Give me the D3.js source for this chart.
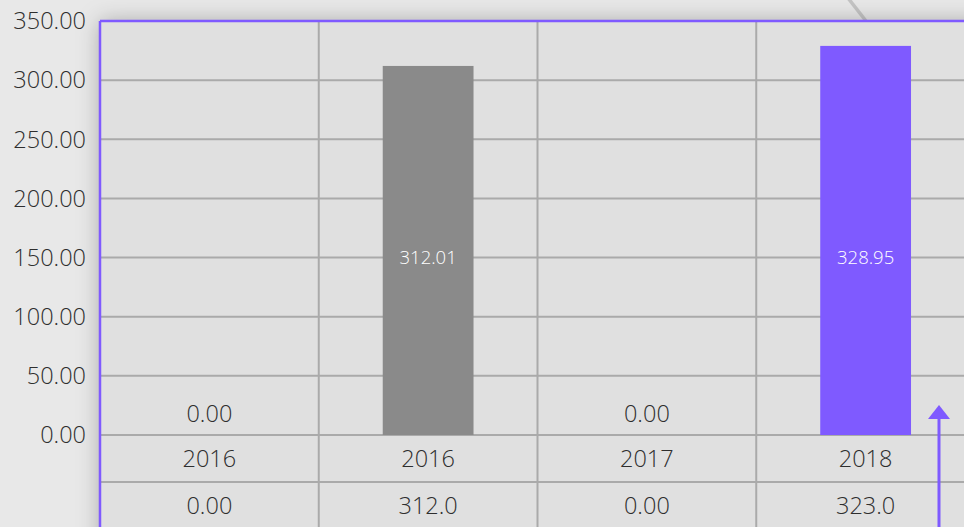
<!DOCTYPE html>
<html>
<head>
<meta charset="utf-8">
<script src="https://cdn.jsdelivr.net/npm/d3@7"></script>
<style>
  html, body { margin: 0; padding: 0; background: #e8e8e8; overflow: hidden; }
  svg text { font-family: "Open Sans", sans-serif; }
</style>
</head>
<body>
<svg id="chart"></svg>
<script>
// chart data
var years = ["2016", "2016", "2017", "2018"];
var values = [0, 312.01, 0, 328.95];
var tableValues = ["0.00", "312.0", "0.00", "323.0"];
var barColors = ["#8a8a8a", "#8a8a8a", "#8a8a8a", "#7f5aff"];
var yTicks = [0, 50, 100, 150, 200, 250, 300, 350];

var dimensions = {
    width: 964,
    height: 527,
    panel: { left: 100, top: 21, right: 975 },
    baseline: 435,
    rowHeight: 47
};

var accent = "#7f5aff";
var gridColor = "#aaaaaa";
var textColor = "#2e2e2e";

var svg = d3.select("#chart")
            .attr("width", dimensions.width)
            .attr("height", dimensions.height);

// drop shadow for the panel
var defs = svg.append("defs");
var shadow = defs.append("filter")
                 .attr("id", "shadow")
                 .attr("x", "-20%").attr("y", "-20%")
                 .attr("width", "140%").attr("height", "140%");
shadow.append("feDropShadow")
      .attr("dx", 0).attr("dy", 0)
      .attr("stdDeviation", 11)
      .attr("flood-color", "#000")
      .attr("flood-opacity", 0.28);

svg.append("rect")
   .attr("width", dimensions.width)
   .attr("height", dimensions.height)
   .attr("fill", "#e8e8e8");

// the faint diagonal line in the top corner
svg.append("line")
   .attr("x1", 848).attr("y1", -2)
   .attr("x2", 866).attr("y2", dimensions.panel.top)
   .attr("stroke", "#c4c4c4")
   .attr("stroke-width", 3.5);

svg.append("rect")
   .attr("x", dimensions.panel.left)
   .attr("y", dimensions.panel.top)
   .attr("width", 1000)
   .attr("height", 700)
   .attr("fill", "#e0e0e0")
   .attr("filter", "url(#shadow)");

// scales
var xScale = d3.scaleBand()
               .domain(d3.range(years.length))
               .range([dimensions.panel.left, dimensions.panel.right])
               .padding(0);

var yScale = d3.scaleLinear()
               .domain([0, 350])
               .range([dimensions.baseline, dimensions.panel.top]);

var barWidth = xScale.bandwidth() * 0.415;
var barOffset = (xScale.bandwidth() - barWidth) / 2;

// horizontal grid lines
svg.append("g")
   .selectAll("line")
   .data(yTicks)
   .enter()
   .append("line")
   .attr("x1", dimensions.panel.left)
   .attr("x2", dimensions.width)
   .attr("y1", d => yScale(d))
   .attr("y2", d => yScale(d))
   .attr("stroke", gridColor)
   .attr("stroke-width", 2);

// table row lines under the baseline
var rowLines = [1, 2];
svg.append("g")
   .selectAll("line")
   .data(rowLines)
   .enter()
   .append("line")
   .attr("x1", dimensions.panel.left)
   .attr("x2", dimensions.width)
   .attr("y1", d => dimensions.baseline + d * dimensions.rowHeight)
   .attr("y2", d => dimensions.baseline + d * dimensions.rowHeight)
   .attr("stroke", gridColor)
   .attr("stroke-width", 2);

// vertical grid lines between the columns
svg.append("g")
   .selectAll("line")
   .data(d3.range(1, years.length))
   .enter()
   .append("line")
   .attr("x1", d => xScale(d))
   .attr("x2", d => xScale(d))
   .attr("y1", dimensions.panel.top)
   .attr("y2", dimensions.height)
   .attr("stroke", gridColor)
   .attr("stroke-width", 2);

// y axis labels
svg.append("g")
   .selectAll("text")
   .data(yTicks)
   .enter()
   .append("text")
   .attr("x", 86)
   .attr("y", d => yScale(d))
   .attr("dy", "0.35em")
   .attr("text-anchor", "end")
   .attr("font-size", 23.5)
   .attr("font-weight", 300)
   .attr("fill", textColor)
   .text(d => d3.format(".2f")(d));

// bars
svg.append("g")
   .selectAll("rect")
   .data(values)
   .enter()
   .append("rect")
   .attr("x", (d, i) => xScale(i) + barOffset)
   .attr("y", d => yScale(d))
   .attr("width", barWidth)
   .attr("height", d => yScale(0) - yScale(d))
   .attr("fill", (d, i) => barColors[i]);

// value labels: white inside bars, dark above empty ones
svg.append("g")
   .selectAll("text")
   .data(values)
   .enter()
   .append("text")
   .attr("x", (d, i) => xScale(i) + xScale.bandwidth() / 2)
   .attr("y", d => d > 0 ? yScale(150) : yScale(0) - 21)
   .attr("dy", "0.35em")
   .attr("text-anchor", "middle")
   .attr("font-size", d => d > 0 ? 18.5 : 23.5)
   .attr("font-weight", 300)
   .attr("fill", d => d > 0 ? "#ffffff" : textColor)
   .text(d => d3.format(".2f")(d));

// table rows: years, then totals
svg.append("g")
   .selectAll("text")
   .data(years)
   .enter()
   .append("text")
   .attr("x", (d, i) => xScale(i) + xScale.bandwidth() / 2)
   .attr("y", dimensions.baseline + dimensions.rowHeight / 2)
   .attr("dy", "0.35em")
   .attr("text-anchor", "middle")
   .attr("font-size", 23.5)
   .attr("font-weight", 300)
   .attr("fill", textColor)
   .text(d => d);

svg.append("g")
   .selectAll("text")
   .data(tableValues)
   .enter()
   .append("text")
   .attr("x", (d, i) => xScale(i) + xScale.bandwidth() / 2)
   .attr("y", dimensions.baseline + dimensions.rowHeight * 1.5)
   .attr("dy", "0.35em")
   .attr("text-anchor", "middle")
   .attr("font-size", 23.5)
   .attr("font-weight", 300)
   .attr("fill", textColor)
   .text(d => d);

// purple panel border (left and top)
svg.append("line")
   .attr("x1", dimensions.panel.left).attr("y1", dimensions.panel.top)
   .attr("x2", dimensions.width).attr("y2", dimensions.panel.top)
   .attr("stroke", accent).attr("stroke-width", 2.5);
svg.append("line")
   .attr("x1", dimensions.panel.left).attr("y1", dimensions.panel.top)
   .attr("x2", dimensions.panel.left).attr("y2", dimensions.height)
   .attr("stroke", accent).attr("stroke-width", 2.5);

// arrow pointing up in the last column
var arrowX = 939;
svg.append("line")
   .attr("x1", arrowX).attr("y1", 416)
   .attr("x2", arrowX).attr("y2", dimensions.height)
   .attr("stroke", accent)
   .attr("stroke-width", 3);
svg.append("path")
   .attr("d", `M${arrowX},405 L${arrowX + 11},419 L${arrowX - 11},419 Z`)
   .attr("fill", accent);
</script>
</body>
</html>
